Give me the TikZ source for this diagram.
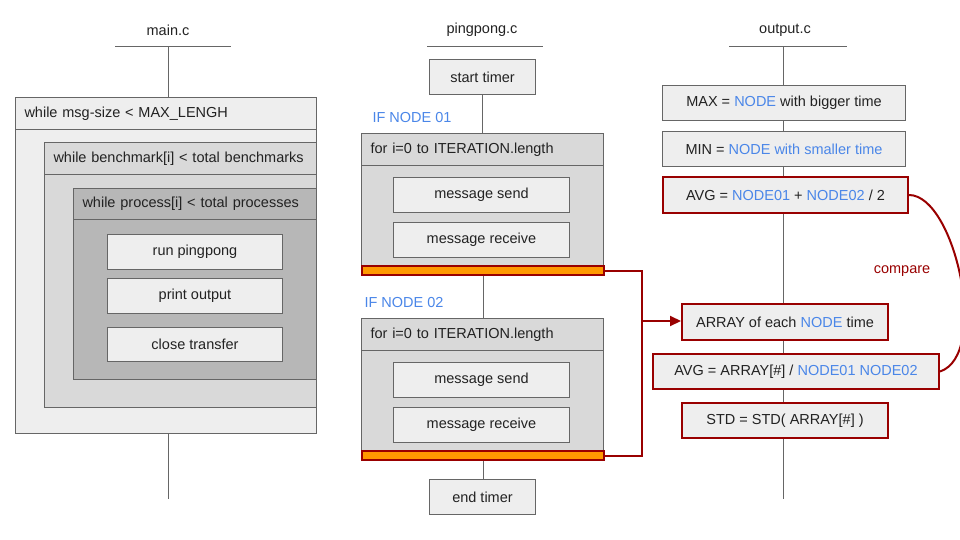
\documentclass[tikz,border=0pt]{standalone}
\usepackage{fontspec}
\setmainfont{Liberation Sans}
\usepackage{tikz}
\usetikzlibrary{positioning,arrows.meta}
\definecolor{boxline}{HTML}{666666}
\definecolor{lightfill}{HTML}{EEEEEE}
\definecolor{midfill}{HTML}{D9D9D9}
\definecolor{darkfill}{HTML}{B7B7B7}
\definecolor{nodeblue}{HTML}{4A86E8}
\definecolor{darkred}{HTML}{990000}
\definecolor{barorange}{HTML}{FF9900}
\definecolor{inktext}{HTML}{222222}
\newcommand{\diagfont}{\fontsize{14.5}{17}\selectfont}

\begin{document}
\begin{tikzpicture}[x=1pt,y=-1pt,
  every node/.style={font=\diagfont, text=inktext},
  wire/.style={draw=boxline, line width=1pt},
  plainbox/.style={draw=boxline, line width=1pt, fill=lightfill, anchor=north west, inner sep=0pt},
  headbox/.style={plainbox, align=left, inner xsep=9pt},
  redbox/.style={plainbox, draw=darkred, line width=2pt},
  endbar/.style={draw=darkred, line width=2pt, fill=barorange, anchor=north west, inner sep=0pt, minimum height=9pt, minimum width=242pt},
  redline/.style={draw=darkred, line width=2pt},
  tag/.style={anchor=west, text=nodeblue}]
\useasboundingbox (0,0) rectangle (960,540);

% main.c
\node (mainc) at (168,30) {main.c};
\coordinate (mtop) at (168,47);
\coordinate (mend) at (168,499);
\draw[wire] (115,47) -- (231,47);
\node[plainbox, minimum width=301pt, minimum height=336pt] (loopA) at (15,97) {};
\node[headbox, text width=283pt, minimum height=32pt] (headA) at (15,97) {while msg-size < MAX\_LENGH};
\node[plainbox, fill=midfill, minimum width=272pt, minimum height=265pt] (loopB) at (44,142) {};
\node[headbox, fill=midfill, text width=254pt, minimum height=32pt] (headB) at (44,142) {while benchmark[i] < total benchmarks};
\node[plainbox, fill=darkfill, minimum width=243pt, minimum height=191pt] (loopC) at (73,188) {};
\node[headbox, fill=darkfill, text width=225pt, minimum height=31pt] (headC) at (73,188) {while process[i] < total processes};
\node[plainbox, minimum width=175pt, minimum height=35pt] (runpp) at (107,234) {run pingpong};
\node[plainbox, minimum width=175pt, minimum height=35pt] (prout) at (107,278) {print output};
\node[plainbox, minimum width=175pt, minimum height=34pt] (close) at (107,327) {close transfer};
\draw[wire] (mtop) -- (mtop |- loopA.north);
\draw[wire] (mtop |- loopA.south) -- (mend);

% pingpong.c
\node (pingc) at (482,30) {pingpong.c};
\draw[wire] (427,47) -- (543,47);
\node[plainbox, minimum width=106pt, minimum height=35pt] (start) at (429,59) {start timer};
\foreach \n/\y/\lx/\lab in {A/133/369/IF NODE 01, B/318/361/IF NODE 02}{
  \node[tag] (if\n) at (\lx,\y-15) {\lab};
  \node[plainbox, fill=midfill, minimum width=242pt, minimum height=132pt] (for\n) at (361,\y) {};
  \node[headbox, fill=midfill, text width=224pt, minimum height=32pt] (forh\n) at (361,\y) {for i=0 to ITERATION.length};
  \node[plainbox, minimum width=176pt, minimum height=35pt] (send\n) at (393,\y+44) {message send};
  \node[plainbox, minimum width=176pt, minimum height=35pt] (recv\n) at (393,\y+89) {message receive};
  \node[endbar] (bar\n) at (361,\y+132) {};
}
\node[plainbox, minimum width=106pt, minimum height=35pt] (endt) at (429,479) {end timer};
\draw[wire] (start.south) -- (start.south |- forA.north);
\draw[wire] (barA.south) -- (barA.south |- forB.north);
\draw[wire] (barB.south) -- (barB.south |- endt.north);

% output.c
\node (outc) at (785,30) {output.c};
\draw[wire] (729,47) -- (847,47);
\coordinate (otop) at (783,47);
\coordinate (oend) at (783,499);
\draw[wire] (otop) -- (oend);
\node[plainbox, minimum width=243pt, minimum height=35pt] (maxb) at (662,85) {MAX = \textcolor{nodeblue}{NODE} with bigger time};
\node[plainbox, minimum width=243pt, minimum height=35pt] (minb) at (662,131) {MIN = \textcolor{nodeblue}{NODE with smaller time}};
\node[redbox, minimum width=245pt, minimum height=36pt] (avgA) at (662,176) {AVG = \textcolor{nodeblue}{NODE01} + \textcolor{nodeblue}{NODE02} / 2};
\node[redbox, minimum width=206pt, minimum height=36pt] (arr) at (681,303) {ARRAY of each \textcolor{nodeblue}{NODE} time};
\node[redbox, minimum width=286pt, minimum height=35pt] (avgB) at (652,353) {AVG = ARRAY[\#] / \textcolor{nodeblue}{NODE01 NODE02}};
\node[redbox, minimum width=206pt, minimum height=35pt] (std) at (681,402) {STD = STD( ARRAY[\#] )};

% red links
\coordinate (join) at (642,321);
\draw[redline] (barA.east) -| (join);
\draw[redline] (barB.east) -| (join);
\draw[redline, -{Triangle[length=11pt, width=10pt]}] (join) -- (join -| arr.west);
\draw[redline] (avgA.east) .. controls (955,195) and (990,355) .. (avgB.east);
\node[text=darkred] (cmp) at (902,271) {compare};
\end{tikzpicture}
\end{document}
